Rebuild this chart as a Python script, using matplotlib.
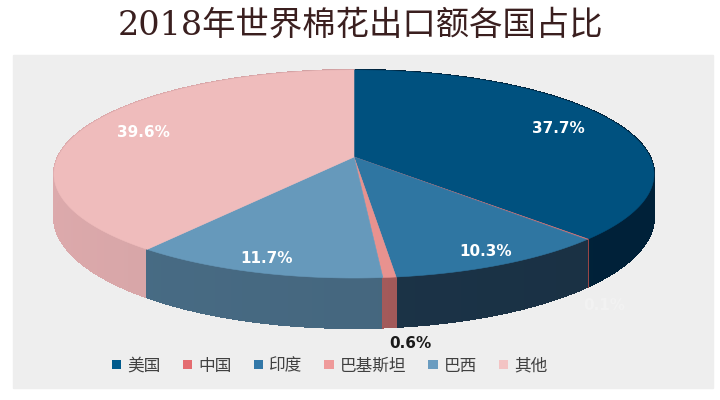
import numpy as np
import matplotlib
matplotlib.use("Agg")
import matplotlib.pyplot as plt
from matplotlib.patches import Polygon, Rectangle, Patch
from matplotlib.colors import to_rgb

plt.rcParams['font.family'] = ['Noto Sans CJK SC', 'DejaVu Sans']

# data
countries = ['美国', '中国', '印度', '巴基斯坦', '巴西', '其他']
shares = [37.7, 0.1, 10.3, 0.6, 11.7, 39.6]
title = '2018年世界棉花出口额各国占比'

# style
top_colors = ['#00517f', '#e07070', '#2f76a2', '#e8928f', '#6699bb', '#efbcbc']
side_colors = ['#00233c', '#a04848', '#1b3347', '#a35a5a', '#45677f', '#d0a0a2']
legend_colors = ['#005a8c', '#e46c70', '#3278a8', '#ef9a9a', '#6a9cc0', '#f3c4c4']

# perspective of the disc (pixel units)
CX, CY = 354, 157
D, K, S, T = 75.56, -0.1635, 296, 41.8


def proj(theta, r=1.0, depth=0.0):
    u = r * np.sin(theta)
    v = -r * np.cos(theta)
    den = 1 + K * v
    return CX + S * u / den, (CY + D * v + depth) / den


fig = plt.figure(figsize=(7.2, 4.0), dpi=100)
ax = fig.add_axes([0, 0, 1, 1])
ax.set_xlim(0, 720)
ax.set_ylim(400, 0)
ax.axis('off')
ax.add_patch(Rectangle((13, 55), 700, 333, color='#eeeeee', zorder=0))

fracs = np.array(shares) / sum(shares)
edges = np.concatenate([[0], np.cumsum(fracs)]) * 2 * np.pi

# sides of the cylinder, back to front
quads = []
for i in range(len(shares)):
    a0, a1 = edges[i], edges[i + 1]
    n = max(2, int(np.degrees(a1 - a0)) + 2)
    th = np.linspace(a0, a1, n)
    base = np.array(to_rgb(side_colors[i]))
    # whole side as one smooth shape underneath
    xt, yt = proj(th)
    xb, yb = proj(th[::-1], depth=T)
    outline = list(zip(xt, yt)) + list(zip(xb, yb))
    quads.append((-np.cos((a0 + a1) / 2) - 0.001, outline, base, True))
    for t0, t1 in zip(th[:-1], th[1:]):
        x0, y0 = proj(t0)
        x1, y1 = proj(t1)
        x2, y2 = proj(t1, depth=T)
        x3, y3 = proj(t0, depth=T)
        u = np.sin((t0 + t1) / 2)
        f = 1.06 - 0.12 * (u + 1) / 2
        col = np.clip(base * f, 0, 1)
        quads.append((-np.cos((a0 + a1) / 2), [(x0, y0), (x1, y1), (x2, y2), (x3, y3)], col, False))
quads.sort(key=lambda q: q[0])
for _, pts, col, aa in quads:
    ax.add_patch(Polygon(pts, closed=True, facecolor=col, edgecolor=col,
                         lw=0.5 if aa else 0.8, antialiased=aa, zorder=1))

# top faces
for i in range(len(shares)):
    a0, a1 = edges[i], edges[i + 1]
    th = np.linspace(a0, a1, max(2, int(np.degrees(a1 - a0)) * 2 + 2))
    xs, ys = proj(th)
    pts = [(CX, CY)] + list(zip(xs, ys))
    ax.add_patch(Polygon(pts, closed=True, facecolor=top_colors[i],
                         edgecolor=top_colors[i], lw=0.4, zorder=2))

# value labels
inner_r = {0: 0.78, 2: 0.9, 4: 0.9, 5: 0.78}
outer_off = {1: (17, 19, '#f2f2f2'), 3: (21, 16, '#1a1a1a')}
for i, val in enumerate(shares):
    mid = (edges[i] + edges[i + 1]) / 2
    txt = f'{val:.1f}%'
    if i in inner_r:
        x, y = proj(mid, r=inner_r[i])
        col = 'white'
    else:
        x, y = proj(mid, depth=T)
        dx, dy, col = outer_off[i]
        x, y = x + dx, y + dy
    ax.text(x, y, txt, ha='center', va='center', fontsize=11, fontweight='bold',
            color=col, family='DejaVu Sans', zorder=5)

fig.text(0.5, 0.935, title, ha='center', va='center', fontsize=24,
         color='#3a1f1f', family=['DejaVu Serif', 'Noto Sans CJK SC'])

handles = [Patch(facecolor=c, edgecolor='none') for c in legend_colors]
fig.legend(handles, countries, loc='center', bbox_to_anchor=(0.458, 0.085), ncol=6,
           frameon=False, fontsize=12, handlelength=0.55, handleheight=0.4,
           handletextpad=0.35, columnspacing=1.35, labelcolor='#404040')

fig.savefig('out.png', dpi=100)
